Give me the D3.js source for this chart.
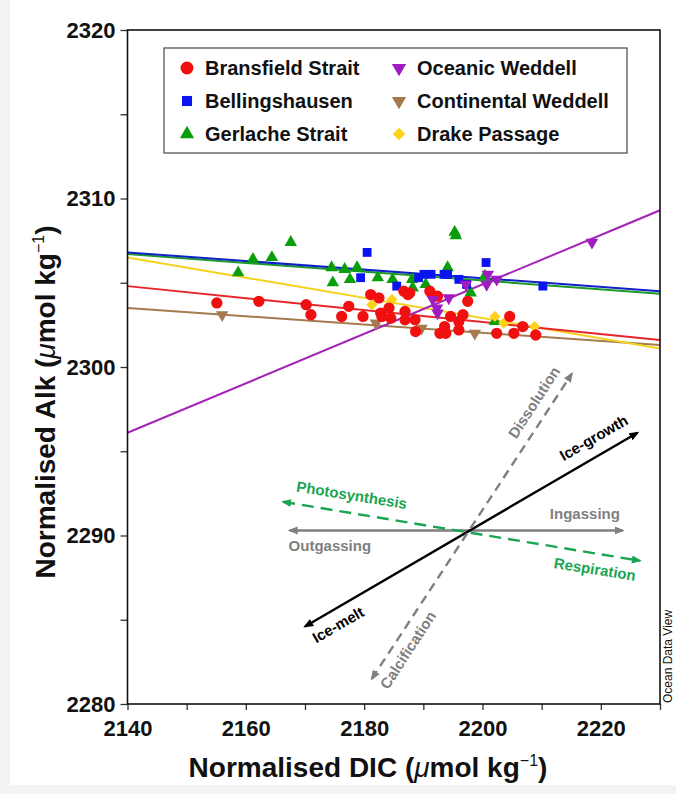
<!DOCTYPE html>
<html>
<head>
<meta charset="utf-8">
<script src="https://cdn.jsdelivr.net/npm/d3@7"></script>
<style>
  body { margin: 0; background: #f3f3f3; }
  svg { display: block; font-family: "Liberation Sans", Arial, sans-serif; }
</style>
</head>
<body>
<svg id="chart" width="676" height="794"></svg>
<script>
// axis ranges
const dicDomain = [2140, 2230];
const alkDomain = [2280, 2320];
const dicTicks = [2140, 2150, 2160, 2170, 2180, 2190, 2200, 2210, 2220, 2230];
const alkTicks = [2280, 2285, 2290, 2295, 2300, 2305, 2310, 2315, 2320];

// [DIC, Alk] per region
const bransfield = [
  [2155.1, 2303.8], [2162.2, 2303.9], [2170.2, 2303.7], [2171.0, 2303.1], [2176.2, 2303.0],
  [2177.4, 2303.6], [2179.8, 2303.0], [2181.1, 2304.3], [2182.5, 2304.1], [2182.8, 2303.2],
  [2184.2, 2303.5], [2183.0, 2303.0], [2184.5, 2302.9], [2186.7, 2304.5], [2187.4, 2304.3],
  [2187.7, 2304.4], [2186.9, 2303.3], [2186.9, 2302.8], [2188.6, 2302.8], [2188.7, 2302.1],
  [2191.1, 2304.5], [2192.4, 2304.2], [2197.5, 2303.9], [2192.8, 2302.0], [2193.6, 2302.4],
  [2193.8, 2302.0], [2194.6, 2303.0], [2196.0, 2302.7], [2196.7, 2303.1], [2196.0, 2302.2],
  [2202.4, 2302.0], [2204.6, 2303.0], [2205.3, 2302.0], [2206.8, 2302.4], [2209.0, 2301.9]
];
const bellingshausen = [
  [2180.5, 2306.8], [2179.4, 2305.3], [2185.5, 2304.8], [2189.2, 2305.3], [2190.1, 2305.5],
  [2191.3, 2305.5], [2193.5, 2305.5], [2194.1, 2305.5], [2196.0, 2305.2], [2197.3, 2304.9],
  [2200.6, 2306.2], [2210.2, 2304.8]
];
const gerlache = [
  [2167.6, 2307.4], [2164.4, 2306.5], [2161.2, 2306.4], [2158.7, 2305.6], [2174.5, 2305.9],
  [2174.7, 2305.0], [2176.7, 2305.8], [2177.6, 2305.2], [2178.8, 2305.9], [2182.3, 2305.3],
  [2184.8, 2305.2], [2188.1, 2305.2], [2188.2, 2304.7], [2190.4, 2304.9], [2195.3, 2308.0],
  [2195.5, 2307.8], [2194.1, 2305.9], [2198.0, 2304.4], [2200.4, 2305.4], [2202.1, 2302.7]
];
const oceanicWeddell = [
  [2218.5, 2307.4], [2200.9, 2305.5], [2202.4, 2305.2], [2200.7, 2304.9], [2197.2, 2304.9],
  [2194.3, 2304.1], [2191.6, 2304.0], [2192.3, 2303.5], [2192.4, 2303.2]
];
const continentalWeddell = [
  [2156.0, 2303.1], [2182.0, 2302.6], [2189.7, 2302.3], [2198.7, 2302.0]
];
const drakePassage = [
  [2181.3, 2303.7], [2184.7, 2304.0], [2202.1, 2303.0], [2203.6, 2302.6], [2208.8, 2302.4]
];

// regression lines: Alk at DIC = 2140 and DIC = 2230
const fitStart = { bransfield: 2304.8, bellingshausen: 2306.8, gerlache: 2306.7, oceanicWeddell: 2296.1, continentalWeddell: 2303.5, drakePassage: 2306.5 };
const fitEnd   = { bransfield: 2301.6, bellingshausen: 2304.5, gerlache: 2304.35, oceanicWeddell: 2309.3, continentalWeddell: 2301.3, drakePassage: 2301.1 };

// process vectors [from, to] in DIC/Alk units
const processArrows = [
  { from: [2167.4, 2290.3], to: [2223.7, 2290.3], color: "#7f7f7f", dash: null },
  { from: [2170.0, 2284.6], to: [2226.2, 2296.1], color: "#000000", dash: null },
  { from: [2181.3, 2281.5], to: [2215.1, 2299.6], color: "#7f7f7f", dash: "9,6" },
  { from: [2166.3, 2292.0], to: [2226.6, 2288.5], color: "#1aa552", dash: "12,7" }
];
const processLabels = [
  { text: "Photosynthesis", at: [2177.9, 2292.4], angle: 9, color: "#1aa552" },
  { text: "Respiration", at: [2219.0, 2288.0], angle: 9, color: "#1aa552" },
  { text: "Outgassing", at: [2174.2, 2289.4], angle: 0, color: "#7f7f7f" },
  { text: "Ingassing", at: [2217.3, 2291.3], angle: 0, color: "#7f7f7f" },
  { text: "Ice-growth", at: [2218.8, 2295.8], angle: -30, color: "#000000" },
  { text: "Ice-melt", at: [2175.6, 2284.7], angle: -30, color: "#000000" },
  { text: "Dissolution", at: [2208.7, 2297.9], angle: -57, color: "#7f7f7f" },
  { text: "Calcification", at: [2187.4, 2283.2], angle: -57, color: "#7f7f7f" }
];

const series = [
  { key: "gerlache", name: "Gerlache Strait", data: gerlache, fill: "#0a9e0a", line: "#1b9a2a", sym: d3.symbolTriangle, rot: 0, size: 68 },
  { key: "bellingshausen", name: "Bellingshausen", data: bellingshausen, fill: "#0a14f0", line: "#1020c8", sym: d3.symbolSquare, rot: 0, size: 78 },
  { key: "continentalWeddell", name: "Continental Weddell", data: continentalWeddell, fill: "#a57a4e", line: "#a57a4e", sym: d3.symbolTriangle, rot: 180, size: 68 },
  { key: "drakePassage", name: "Drake Passage", data: drakePassage, fill: "#ffd21a", line: "#f5d21e", sym: d3.symbolSquare, rot: 45, size: 62 },
  { key: "bransfield", name: "Bransfield Strait", data: bransfield, fill: "#f01010", line: "#e8252a", sym: d3.symbolCircle, rot: 0, size: 100 },
  { key: "oceanicWeddell", name: "Oceanic Weddell", data: oceanicWeddell, fill: "#a01cc0", line: "#a424b8", sym: d3.symbolTriangle, rot: 180, size: 68 }
];
const legendOrder = ["bransfield", "oceanicWeddell", "bellingshausen", "continentalWeddell", "gerlache", "drakePassage"];

const svg = d3.select("#chart");
const W = 676, H = 794;
const m = { left: 127.5, right: 660, top: 30, bottom: 704 };

svg.append("rect").attr("x", 10).attr("y", 0).attr("width", W - 10).attr("height", 785).attr("fill", "#ffffff");

const x = d3.scaleLinear().domain(dicDomain).range([m.left, m.right]);
const y = d3.scaleLinear().domain(alkDomain).range([m.bottom, m.top]);

const defs = svg.append("defs");
defs.append("clipPath").attr("id", "plotclip").append("rect")
  .attr("x", m.left).attr("y", m.top).attr("width", m.right - m.left).attr("height", m.bottom - m.top);

processArrows.forEach((a, i) => {
  defs.append("marker")
    .attr("id", "ah" + i)
    .attr("viewBox", "0 0 10 10")
    .attr("refX", 8).attr("refY", 5)
    .attr("markerWidth", 4.2).attr("markerHeight", 4.2)
    .attr("markerUnits", "strokeWidth")
    .attr("orient", "auto-start-reverse")
    .append("path").attr("d", "M0,1 L10,5 L0,9 Z").attr("fill", a.color);
});

// axes
const yAxis = d3.axisLeft(y).tickValues(alkTicks).tickSize(7).tickPadding(5)
  .tickFormat(d => d % 10 === 0 ? d : "");
const xAxis = d3.axisBottom(x).tickValues(dicTicks).tickSize(6).tickPadding(9)
  .tickFormat(d => d % 20 === 0 ? d : "");

const gy = svg.append("g").attr("transform", `translate(${m.left},0)`).call(yAxis);
const gx = svg.append("g").attr("transform", `translate(0,${m.bottom})`).call(xAxis);
[gx, gy].forEach(g => {
  g.select(".domain").remove();
  g.selectAll(".tick line").attr("stroke", "#333").attr("stroke-width", 1.3);
  g.selectAll(".tick text").attr("fill", "#111").style("font-size", "22px").style("font-weight", "bold");
});
gx.selectAll(".tick text").attr("dy", "0.78em");

// process diagram
const gp = svg.append("g").attr("clip-path", "url(#plotclip)");
processArrows.forEach((a, i) => {
  gp.append("line")
    .attr("x1", x(a.from[0])).attr("y1", y(a.from[1]))
    .attr("x2", x(a.to[0])).attr("y2", y(a.to[1]))
    .attr("stroke", a.color).attr("stroke-width", 2.4)
    .attr("stroke-dasharray", a.dash)
    .attr("marker-start", `url(#ah${i})`)
    .attr("marker-end", `url(#ah${i})`);
});
processLabels.forEach(l => {
  gp.append("text")
    .attr("transform", `translate(${x(l.at[0])},${y(l.at[1])}) rotate(${l.angle})`)
    .attr("text-anchor", "middle").attr("dy", "0.35em")
    .attr("fill", l.color).style("font-size", "15px").style("font-weight", "bold")
    .text(l.text);
});

// fits
const gl = svg.append("g").attr("clip-path", "url(#plotclip)");
series.forEach(s => {
  gl.append("line")
    .attr("x1", x(dicDomain[0])).attr("y1", y(fitStart[s.key]))
    .attr("x2", x(dicDomain[1])).attr("y2", y(fitEnd[s.key]))
    .attr("stroke", s.line).attr("stroke-width", 2);
});

// points
const gm = svg.append("g").attr("clip-path", "url(#plotclip)");
series.forEach(s => {
  const sym = d3.symbol().type(s.sym).size(s.size);
  gm.selectAll(null).data(s.data).enter().append("path")
    .attr("d", sym)
    .attr("transform", d => `translate(${x(d[0])},${y(d[1])}) rotate(${s.rot})`)
    .attr("fill", s.fill);
});

// frame
svg.append("rect")
  .attr("x", m.left).attr("y", m.top)
  .attr("width", m.right - m.left).attr("height", m.bottom - m.top)
  .attr("fill", "none").attr("stroke", "#111").attr("stroke-width", 1.6);

// legend
const lg = svg.append("g");
lg.append("rect").attr("x", 164).attr("y", 48).attr("width", 463).attr("height", 105)
  .attr("fill", "#fff").attr("stroke", "#555").attr("stroke-width", 1.3);
legendOrder.forEach((k, i) => {
  const s = series.find(e => e.key === k);
  const col = i % 2, row = Math.floor(i / 2);
  const mx = col === 0 ? 187 : 399;
  const my = 68 + row * 33;
  lg.append("path")
    .attr("d", d3.symbol().type(s.sym).size(s.size * 1.3))
    .attr("transform", `translate(${mx},${my}) rotate(${s.rot})`)
    .attr("fill", s.fill);
  lg.append("text").attr("x", mx + 18).attr("y", my).attr("dy", "0.36em")
    .attr("fill", "#111").style("font-size", "20px").style("font-weight", "bold")
    .text(s.name);
});

// axis titles
function unitTitle(sel, label) {
  sel.style("font-size", "28px").style("font-weight", "bold").attr("fill", "#111");
  sel.append("tspan").text(label + " (");
  sel.append("tspan").style("font-style", "italic").style("font-weight", "normal").text("\u03bc");
  sel.append("tspan").text("mol kg");
  sel.append("tspan").attr("dy", "-11").style("font-size", "16px").style("font-weight", "normal").text("\u22121");
  sel.append("tspan").attr("dy", "11").text(")");
}
svg.append("text").attr("x", 368).attr("y", 777)
  .attr("text-anchor", "middle").call(unitTitle, "Normalised DIC");
svg.append("text").attr("transform", `translate(55,402) rotate(-90)`)
  .attr("text-anchor", "middle").call(unitTitle, "Normalised Alk");

svg.append("text").attr("transform", "translate(672,703) rotate(-90)")
  .style("font-size", "12px").attr("fill", "#111").text("Ocean Data View");
</script>
</body>
</html>
